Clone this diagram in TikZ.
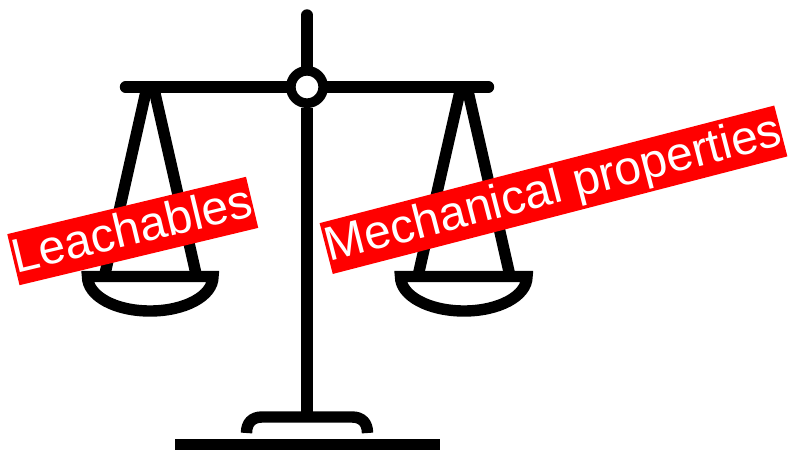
\documentclass[tikz,border=0pt]{standalone}
\usepackage{fontspec}
\setmainfont[Kerning=Off]{Liberation Sans}
\begin{document}
\begin{tikzpicture}[x=1pt,y=-1pt]
% Styles
\tikzstyle{pivot} = [
    circle,
    draw,
    fill=white,
    line width=9.7pt,
    inner sep=0pt,
    minimum size=32.4pt
]

\tikzstyle{weight} = [
    rectangle,
    fill=red,
    text=white,
    inner xsep=0pt,
    inner ysep=0pt,
    text height=40pt,
    text depth=12.5pt,
    minimum height=52.5pt,
    font=\fontsize{48pt}{50pt}\selectfont
]

\tikzstyle{bar} = [
    line width=11.4pt,
    line cap=round
]

\tikzstyle{rod} = [
    line width=11.4pt
]

\useasboundingbox (0,0) rectangle (789,450);

% Nodes
\node[pivot] (hub) at (307,87) {};

\coordinate (top) at (307,15);
\coordinate (foot) at (307,417);
\coordinate (beamL) at (125.5,87);
\coordinate (beamR) at (488.5,87);

\coordinate (stringLa) at (147,87);
\coordinate (stringLb) at (153.5,87);
\coordinate (stringRa) at (461,87);
\coordinate (stringRb) at (467,87);
\coordinate (panLa) at (104.5,276);
\coordinate (panLb) at (196.5,276);
\coordinate (panRa) at (418,276);
\coordinate (panRb) at (510,276);

% Edges
\draw[bar] (top) -- (hub);
\draw[rod] (hub) -- (foot);
\draw[bar] (beamL) -- (hub);
\draw[bar] (hub) -- (beamR);

\draw[rod] (stringLa) -- (panLa);
\draw[rod] (stringLb) -- (panLb);
\draw[rod] (stringRa) -- (panRa);
\draw[rod] (stringRb) -- (panRb);

% Pans
\draw[rod] (87.5,276.5) -- (213,276.5)
    .. controls (213,296) and (185,311) .. (150,311)
    .. controls (115,311) and (87.5,296) .. cycle;

\draw[rod] (400.5,276.5) -- (527,276.5)
    .. controls (527,296) and (499,311) .. (464,311)
    .. controls (429,311) and (400.5,296) .. cycle;

% Base
\draw[rod] (246.5,433) .. controls (246.5,423) and (252,417) .. (262,417)
    -- (352,417) .. controls (362,417) and (367.5,423) .. (367.5,433);
\draw[rod] (175,444.5) -- (440,444.5);

% Labels
\node[weight,rotate=13.5] (leach) at (132.75,231) {Leachables};

\node[weight,rotate=14.5] (mech) at (553.5,189.75) {Mechanical properties};

\end{tikzpicture}
\end{document}
